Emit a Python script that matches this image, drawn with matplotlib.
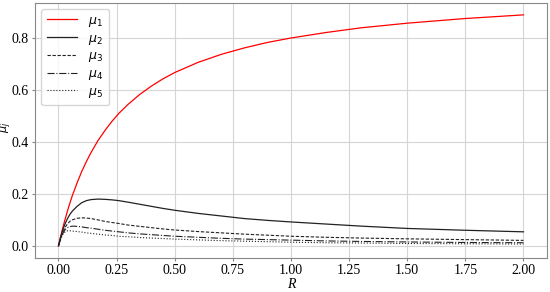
import numpy as np
import matplotlib
matplotlib.use("Agg")
import matplotlib.pyplot as plt

plt.rcParams['font.family'] = 'serif'
plt.rcParams['font.serif'] = ['Liberation Serif', 'DejaVu Serif']

# values
R = [0.0, 0.01, 0.02, 0.03, 0.04, 0.05, 0.06, 0.08, 0.1, 0.12, 0.14, 0.17,
     0.2, 0.23, 0.26, 0.3, 0.35, 0.4, 0.45, 0.5, 0.6, 0.7, 0.8, 0.9, 1.0,
     1.15, 1.3, 1.5, 1.75, 2.0]
mu1 = [0.0, 0.038, 0.074, 0.107, 0.138, 0.167, 0.194, 0.242, 0.286, 0.324,
       0.359, 0.405, 0.444, 0.479, 0.510, 0.545, 0.583, 0.615, 0.643, 0.667,
       0.706, 0.737, 0.762, 0.783, 0.800, 0.821, 0.839, 0.857, 0.875, 0.889]
mu2 = [0.0, 0.035, 0.065, 0.088, 0.107, 0.122, 0.134, 0.152, 0.166, 0.174,
       0.178, 0.180, 0.179, 0.177, 0.174, 0.168, 0.160, 0.152, 0.144, 0.137,
       0.125, 0.115, 0.105, 0.098, 0.092, 0.084, 0.076, 0.067, 0.060, 0.054]
mu3 = [0.0, 0.030, 0.055, 0.073, 0.086, 0.095, 0.100, 0.106, 0.108, 0.107,
       0.105, 0.100, 0.094, 0.090, 0.086, 0.080, 0.075, 0.070, 0.065, 0.061,
       0.055, 0.050, 0.045, 0.041, 0.037, 0.033, 0.030, 0.027, 0.024, 0.021]
mu4 = [0.0, 0.028, 0.050, 0.064, 0.071, 0.074, 0.076, 0.075, 0.073, 0.070,
       0.068, 0.064, 0.060, 0.057, 0.054, 0.050, 0.046, 0.043, 0.040, 0.037,
       0.033, 0.029, 0.026, 0.024, 0.022, 0.019, 0.017, 0.015, 0.013, 0.012]
mu5 = [0.0, 0.027, 0.046, 0.055, 0.058, 0.058, 0.057, 0.055, 0.053, 0.050,
       0.048, 0.045, 0.042, 0.040, 0.037, 0.035, 0.032, 0.030, 0.028, 0.026,
       0.023, 0.020, 0.018, 0.016, 0.014, 0.012, 0.011, 0.009, 0.008, 0.007]

fig, ax = plt.subplots(figsize=(5.5, 2.92), dpi=100)
fig.subplots_adjust(left=0.064, right=0.994, top=0.99, bottom=0.118)

ax.plot(R, mu1, color='red', lw=0.9, label=r'$\mu_1$')
ax.plot(R, mu2, color='#222222', lw=0.9, ls='-', label=r'$\mu_2$')
ax.plot(R, mu3, color='#222222', lw=0.8, ls='--', dashes=(3, 1.5), label=r'$\mu_3$')
ax.plot(R, mu4, color='#222222', lw=0.8, ls='-.', label=r'$\mu_4$')
ax.plot(R, mu5, color='#222222', lw=0.8, ls=':', label=r'$\mu_5$')

ax.set_xlim(-0.1, 2.1)
ax.set_ylim(-0.045, 0.935)
ax.set_xticks([0, 0.25, 0.5, 0.75, 1.0, 1.25, 1.5, 1.75, 2.0])
ax.set_yticks([0, 0.2, 0.4, 0.6, 0.8])
ax.tick_params(labelsize=10, length=2.5, pad=2, color='#888888')
ax.grid(True, color='#d5d5d5', lw=0.8)
for s in ax.spines.values():
    s.set_color('#888888')

ax.set_xlabel('R', fontsize=10, style='italic', labelpad=1)
ax.set_ylabel(r'$\mu_j$', fontsize=8)
ax.yaxis.set_label_coords(-0.041, 0.51)

ax.legend(loc='upper left', fontsize=9, handlelength=2.4, labelspacing=0.3,
          borderpad=0.45, handletextpad=0.9, framealpha=0.8, edgecolor='#cccccc')

fig.savefig('out.png', dpi=100)
